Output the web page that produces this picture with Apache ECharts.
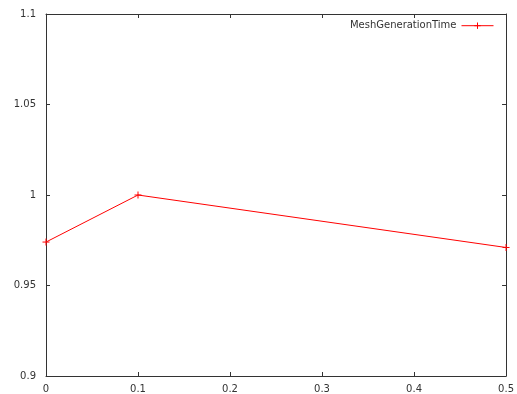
<!DOCTYPE html>
<html>
<head>
<meta charset="utf-8">
<script src="https://cdn.jsdelivr.net/npm/echarts@6/dist/echarts.min.js"></script>
<style>
  html, body { margin: 0; padding: 0; background: #fff; }
  #container { width: 517px; height: 394px; }
</style>
</head>
<body>
<div id="container"></div>
<script>
var dom = document.getElementById("container");
var myChart = echarts.init(dom);

// data
var seriesName = 'MeshGenerationTime';
var xValues = [0, 0.1, 0.5];
var yValues = [0.974, 1.0, 0.971];

var plus = 'path://M0,4.5L9,4.5M4.5,0L4.5,9';
var axisColor = '#333';
var fontStyle = { fontFamily: 'DejaVu Sans', fontSize: 10, color: '#333' };

var points = [];
for (var i = 0; i < xValues.length; i++) {
    points.push([xValues[i], yValues[i]]);
}

function valueAxis(min, max, interval, pos, showLabel, extra) {
    var ax = {
        type: 'value',
        min: min,
        max: max,
        interval: interval,
        position: pos,
        axisLine: { show: true, onZero: false, lineStyle: { color: axisColor, width: 1 } },
        axisTick: { show: true, inside: true, length: 4, lineStyle: { color: axisColor } },
        splitLine: { show: false },
        axisLabel: Object.assign({ show: showLabel }, fontStyle)
    };
    return Object.assign(ax, extra || {});
}

var option = {
    animation: false,
    grid: { left: 46, right: 8, top: 14, bottom: 16, containLabel: false },
    legend: {
        right: 18,
        top: 15,
        align: 'right',
        itemWidth: 32,
        itemHeight: 8,
        itemGap: 4,
        textStyle: fontStyle,
        lineStyle: { width: 1 },
        itemStyle: { borderWidth: 1 },
        data: [seriesName]
    },
    xAxis: [
        valueAxis(0, 0.5, 0.1, 'bottom', true, {
            axisLabel: Object.assign({ show: true, margin: 8,
                formatter: function (v) { return +v.toFixed(1) + ''; } }, fontStyle)
        }),
        valueAxis(0, 0.5, 0.1, 'top', false)
    ],
    yAxis: [
        valueAxis(0.9, 1.1, 0.05, 'left', true, {
            axisLabel: Object.assign({ show: true, margin: 10,
                formatter: function (v) { return +v.toFixed(2) + ''; } }, fontStyle)
        }),
        valueAxis(0.9, 1.1, 0.05, 'right', false)
    ],
    series: [
        {
            name: seriesName,
            type: 'line',
            data: points,
            color: '#ff0000',
            symbol: plus,
            symbolSize: 7,
            showAllSymbol: true,
            itemStyle: { color: 'none', borderColor: '#ff0000', borderWidth: 1 },
            lineStyle: { color: '#ff0000', width: 1 }
        }
    ]
};

myChart.setOption(option, true);
</script>
</body>
</html>
